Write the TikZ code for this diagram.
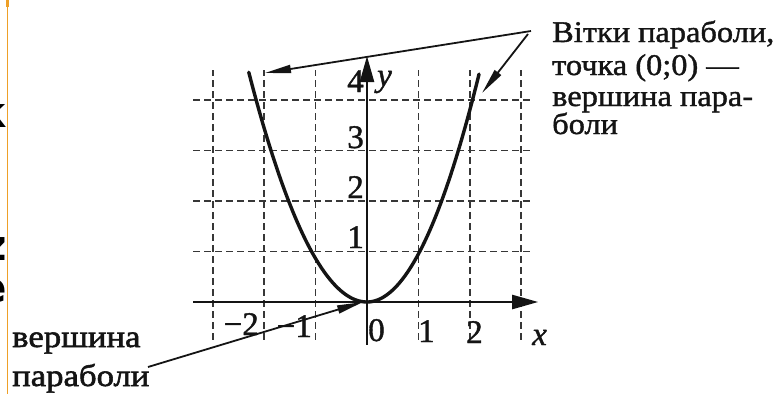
\documentclass[tikz,border=0pt]{standalone}
\usepackage{fontspec}
\setmainfont{Liberation Serif}[FakeBold=1.2]
\newfontfamily\annfont[FakeStretch=1.08,FakeBold=1.3]{Liberation Serif}
\newfontfamily\annfontb[FakeStretch=1.12,FakeBold=1.8]{Liberation Serif}
\newfontfamily\fragfont{DejaVu Sans}
\usetikzlibrary{arrows.meta}
\definecolor{edgeorange}{RGB}{238,160,40}
\definecolor{ink}{RGB}{20,20,20}
\begin{document}
\begin{tikzpicture}[x=1pt,y=-1pt,
  gridline/.style={line width=1.7pt, ink!85, dash pattern=on 7pt off 4pt},
  axisline/.style={line width=2.4pt, ink},
  axisarrow/.style={axisline, -{Triangle[length=26pt,width=14pt]}},
  curve/.style={line width=3.4pt, ink, line cap=round},
  pointer/.style={line width=1.8pt, ink, -{Triangle[length=26pt,width=8pt]}},
  axislabel/.style={font=\fontsize{33}{33}\selectfont, inner sep=0pt, text=ink},
  axisitalic/.style={font=\itshape\fontsize{33}{33}\selectfont, inner sep=0pt, text=ink},
  ann/.style={font=\annfont\fontsize{30}{30}\selectfont, inner sep=0pt, anchor=base west, text=ink},
  annb/.style={font=\annfontb\fontsize{31}{31}\selectfont, inner sep=0pt, anchor=base west, text=ink},
  frag/.style={font=\fragfont\bfseries\fontsize{42}{42}\selectfont, inner sep=0pt, anchor=base east, text=black},
]
\useasboundingbox (0,0) rectangle (779,394);
\fill[white] (0,0) rectangle (779,394);

% left edge of the cropped slide
\begin{scope}
  \clip (0,0) rectangle (6.6,394);
  \node[frag] (fragA) at (7.5,127) {к};
  \node[frag] (fragB) at (7.5,260) {z};
  \node[frag] (fragC) at (7.5,302) {е};
\end{scope}
\draw[edgeorange, line width=1.5pt] (7.3,0) -- (7.3,394);
\fill[edgeorange] (6,0) rectangle (9,7);

% grid, axes and parabola
\begin{scope}[shift={(367,302)}, x=51.4pt, y=50.5pt]
  \foreach \i in {-3,-2,-1,1,2,3}
    \draw[gridline] (\i,-0.75) -- (\i,4.6);
  \foreach \j in {1,2,3,4}
    \draw[gridline] (-3.38,\j) -- (3.2,\j);
  \coordinate (xstart) at (-3.38,0);
  \coordinate (xend) at (3.33,0);
  \coordinate (ystart) at (0,-0.85);
  \coordinate (yend) at (0,4.87);
  \draw[axisarrow] (xstart) -- (xend);
  \draw[axisarrow] (ystart) -- (yend);
  \draw[curve] plot[domain=-2.3:0, samples=60, smooth] (\x,{0.86*\x*\x})
               -- plot[domain=0:2.18, samples=60, smooth] (\x,{0.95*\x*\x});
\end{scope}

% axis labels
\node[axislabel, anchor=base east] (lm2) at (259,335) {−2};
\node[axislabel, anchor=base east] (lm1) at (312,337) {−1};
\node[axislabel, anchor=base west] (l0) at (368,341) {0};
\node[axislabel, anchor=base west] (l1) at (418,342) {1};
\node[axislabel, anchor=base west] (l2) at (466,343) {2};
\node[axisitalic, anchor=base west] (lx) at (532,345) {x};
\node[axislabel, anchor=base east] (ly4) at (364,92) {4};
\node[axislabel, anchor=base east] (ly3) at (364,148) {3};
\node[axislabel, anchor=base east] (ly2) at (364,198) {2};
\node[axislabel, anchor=base east] (ly1) at (364,248) {1};
\node[axisitalic, anchor=base west] (ly) at (377,86) {y};

% annotation, top right
\node[ann] (t1) at (552,42) {Вітки параболи,};
\node[ann] (t2) at (552,75) {точка (0;0) —};
\node[ann] (t3) at (552,106) {вершина пара-};
\node[ann] (t4) at (552,134) {боли};

% annotation, bottom left
\node[annb] (b1) at (12,347) {вершина};
\node[annb] (b2) at (12,386) {параболи};

% pointers
\coordinate (srcA) at (531,31);
\coordinate (srcB) at (528,34);
\coordinate (tipL) at (265,73);
\coordinate (tipR) at (482,93);
\coordinate (srcV) at (148,367);
\coordinate (vtx) at (363,302);
\draw[pointer] (srcA) -- (tipL);
\draw[pointer] (srcB) -- (tipR);
\draw[pointer] (srcV) -- (vtx);
\end{tikzpicture}
\end{document}
